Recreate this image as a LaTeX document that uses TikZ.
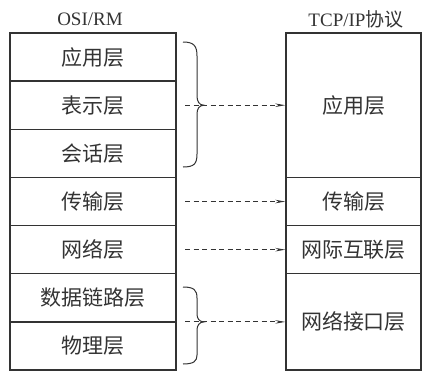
\documentclass[tikz,border=0pt]{standalone}
\usepackage{fontspec}
\setmainfont{Liberation Serif}
\newfontfamily\cjk{Noto Sans CJK SC}
\usetikzlibrary{arrows.meta}
\definecolor{ink}{HTML}{333333}
\tikzset{
  layer/.style={draw=ink, line width=1.4pt, rectangle, inner sep=0pt, text=ink,
    font=\cjk\fontsize{21}{24}\selectfont},
  lrow/.style={layer, minimum width=166pt, minimum height=48.15pt},
  rrow/.style={layer, minimum width=135pt},
  title/.style={text=ink, font=\fontsize{19}{22}\selectfont, inner sep=0pt},
  bracestyle/.style={draw=ink, line width=1pt},
  maparrow/.style={draw=ink, line width=1pt, dash pattern=on 5pt off 3.5pt,
    -{Stealth[length=10pt,width=3.5pt]}}
}
\begin{document}
\begin{tikzpicture}[x=1pt,y=-1pt]
\useasboundingbox (0,0) rectangle (424,372);
% titles
\node[title] (t1) at (90,19) {OSI/RM};
\node[title] (t2) at (356,19) {TCP/IP{\cjk 协议}};
% left column
\node[lrow] (l1) at (93,57.075) {应用层};
\node[lrow] (l2) at (93,105.225) {表示层};
\node[lrow] (l3) at (93,153.375) {会话层};
\node[lrow] (l4) at (93,201.525) {传输层};
\node[lrow] (l5) at (93,249.675) {网络层};
\node[lrow] (l6) at (93,297.825) {数据链路层};
\node[lrow] (l7) at (93,345.975) {物理层};
% right column
\node[rrow, minimum height=144.45pt] (r1) at (353.5,105.225) {应用层};
\node[rrow, minimum height=48.15pt] (r2) at (353.5,201.525) {传输层};
\node[rrow, minimum height=48.15pt] (r3) at (353.5,249.675) {网际互联层};
\node[rrow, minimum height=96.3pt] (r4) at (353.5,321.9) {网络接口层};
% braces
\draw[bracestyle] (183,42) .. controls (194,42) and (197,46) .. (197,56)
  -- (197,96) .. controls (197,101) and (199,105.225) .. (204,105.225)
  .. controls (199,105.225) and (197,109) .. (197,114)
  -- (197,154) .. controls (197,164) and (194,167) .. (183,167);
\draw[bracestyle] (183,287) .. controls (194,287) and (197,290) .. (197,298)
  -- (197,314) .. controls (197,318) and (199,321.9) .. (204,321.9)
  .. controls (199,321.9) and (197,326) .. (197,330)
  -- (197,355) .. controls (197,361) and (194,364) .. (183,364);
% arrows
\coordinate (s1) at (185,105.225);
\coordinate (s2) at (185,201.525);
\coordinate (s3) at (185,249.675);
\coordinate (s4) at (185,321.9);
\draw[maparrow] (s1) -- (r1.west);
\draw[maparrow] (s2) -- (r2.west);
\draw[maparrow] (s3) -- (r3.west);
\draw[maparrow] (s4) -- (r4.west);
\end{tikzpicture}
\end{document}
